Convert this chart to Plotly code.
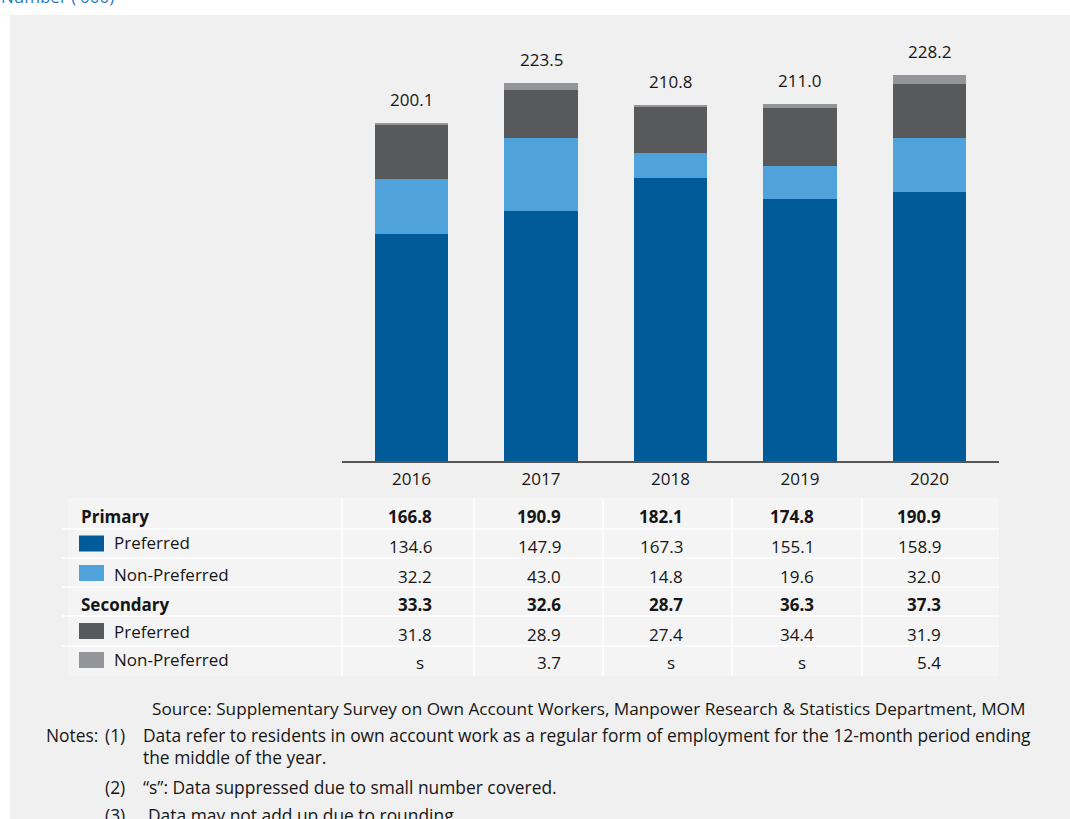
import plotly.graph_objects as go

# ---- data ----
years = ["2016", "2017", "2018", "2019", "2020"]
primary_total = [166.8, 190.9, 182.1, 174.8, 190.9]
primary_pref = [134.6, 147.9, 167.3, 155.1, 158.9]
primary_nonpref = [32.2, 43.0, 14.8, 19.6, 32.0]
secondary_total = [33.3, 32.6, 28.7, 36.3, 37.3]
secondary_pref = [31.8, 28.9, 27.4, 34.4, 31.9]
# bar heights for secondary non-preferred (small segments, shown as "s" in the table)
secondary_nonpref = [1.5, 3.7, 1.3, 1.9, 5.4]
secondary_nonpref_label = ["s", "3.7", "s", "s", "5.4"]
overall_total = [200.1, 223.5, 210.8, 211.0, 228.2]

C_PRI_PREF = "#005b98"
C_PRI_NON = "#4fa3da"
C_SEC_PREF = "#58595b"
C_SEC_NON = "#949599"
PANEL = "#f0f0f0"
TXT = "#161616"
FONT = "Open Sans"
FS = 17

W, H = 1070, 819


def px(x):
    return x / W


def py(y):
    return 1 - y / H


fig = go.Figure()

series = [
    (primary_pref, C_PRI_PREF, "Primary - Preferred"),
    (primary_nonpref, C_PRI_NON, "Primary - Non-Preferred"),
    (secondary_pref, C_SEC_PREF, "Secondary - Preferred"),
    (secondary_nonpref, C_SEC_NON, "Secondary - Non-Preferred"),
]
for vals, col, name in series:
    fig.add_trace(go.Bar(
        x=list(range(len(years))), y=vals, name=name,
        marker=dict(color=col, line=dict(width=0)),
        width=0.57, showlegend=False, hoverinfo="y+name",
    ))

# totals above the bars
for i, t in enumerate(overall_total):
    fig.add_annotation(
        x=i, y=t, xref="x", yref="y", text=f"{t:.1f}", showarrow=False,
        yanchor="bottom", yshift=10, font=dict(family=FONT, size=FS, color=TXT),
    )

baseline_px = 461
top_px = 38
unit_px = 1.69
ymax = (baseline_px - top_px) / unit_px

fig.update_layout(
    width=W, height=H, autosize=False,
    margin=dict(l=0, r=0, t=0, b=0),
    paper_bgcolor="white", plot_bgcolor="rgba(0,0,0,0)",
    barmode="stack", bargap=0,
    xaxis=dict(
        domain=[px(342), px(999)], range=[-0.537, 4.537],
        tickmode="array", tickvals=list(range(len(years))), ticktext=years,
        showgrid=False, zeroline=False, showline=True, linecolor="#555555",
        linewidth=1.5, ticks="", tickfont=dict(family=FONT, size=FS, color=TXT),
        ticklabelstandoff=2, fixedrange=True,
    ),
    yaxis=dict(
        domain=[py(baseline_px), py(top_px)], range=[0, ymax],
        visible=False, fixedrange=True,
    ),
)

shapes = []
# light grey panel
shapes.append(dict(type="rect", xref="paper", yref="paper",
                   x0=px(10), x1=1, y0=0, y1=py(15),
                   fillcolor=PANEL, line=dict(width=0), layer="below"))
# table body
shapes.append(dict(type="rect", xref="paper", yref="paper",
                   x0=px(68), x1=px(999), y0=py(676), y1=py(498),
                   fillcolor="#f4f4f4", line=dict(width=0), layer="below"))
# row separators
for yy in [529, 558, 587, 616, 646]:
    shapes.append(dict(type="line", xref="paper", yref="paper",
                       x0=px(62), x1=px(999), y0=py(yy), y1=py(yy),
                       line=dict(color="white", width=1.5), layer="below"))
# column separators
for xx in [342, 474, 603, 732, 862]:
    shapes.append(dict(type="line", xref="paper", yref="paper",
                       x0=px(xx), x1=px(xx), y0=py(498), y1=py(676),
                       line=dict(color="white", width=1.5), layer="below"))

# legend swatches in the table
for yc, col in [(543.5, C_PRI_PREF), (573, C_PRI_NON), (631, C_SEC_PREF), (660, C_SEC_NON)]:
    shapes.append(dict(type="rect", xref="paper", yref="paper",
                       x0=px(79), x1=px(104), y0=py(yc + 8), y1=py(yc - 8),
                       fillcolor=col, line=dict(width=0)))
fig.update_layout(shapes=shapes)


def text(x, y, s, size=FS, bold=False, anchor="left", color=TXT):
    fig.add_annotation(
        x=px(x), y=py(y), xref="paper", yref="paper",
        text=f"<b>{s}</b>" if bold else s, showarrow=False,
        xanchor=anchor, yanchor="middle",
        font=dict(family=FONT, size=size, color=color),
    )


# axis title (partly above the page edge)
text(-1, -4, "Number ('000)", size=17, color="#2a7bc4")

# row labels
text(79, 516, "Primary", bold=True)
text(112, 542, "Preferred")
text(112, 574, "Non-Preferred")
text(79, 604, "Secondary", bold=True)
text(112, 631, "Preferred")
text(112, 659, "Non-Preferred")

# table values
col_right = [434, 563, 685, 816, 943]
rows = [
    ([f"{v:.1f}" for v in primary_total], 516, True),
    ([f"{v:.1f}" for v in primary_pref], 546, False),
    ([f"{v:.1f}" for v in primary_nonpref], 576, False),
    ([f"{v:.1f}" for v in secondary_total], 604, True),
    ([f"{v:.1f}" for v in secondary_pref], 634, False),
    (secondary_nonpref_label, 662, False),
]
for labels, yy, bold in rows:
    for xr, lab in zip(col_right, labels):
        xx = xr - 8 if lab == "s" else xr
        text(xx, yy, lab, bold=bold, anchor="right")

# source and notes
text(150, 708, "Source: Supplementary Survey on Own Account Workers, Manpower Research &amp; Statistics Department, MOM", size=17.2)
NS = 17.4
text(44, 735, "Notes:", size=NS)
text(103, 735, "(1)", size=NS)
text(141, 735, "Data refer to residents in own account work as a regular form of employment for the 12-month period ending", size=NS)
text(141, 757, "the middle of the year.", size=NS)
text(103, 787, "(2)", size=NS)
text(141, 787, "\u201cs\u201d: Data suppressed due to small number covered.", size=NS)
text(103, 815, "(3)", size=NS)
text(146, 815, "Data may not add up due to rounding.", size=NS)

fig.write_html("out.html", config={"displayModeBar": False})
